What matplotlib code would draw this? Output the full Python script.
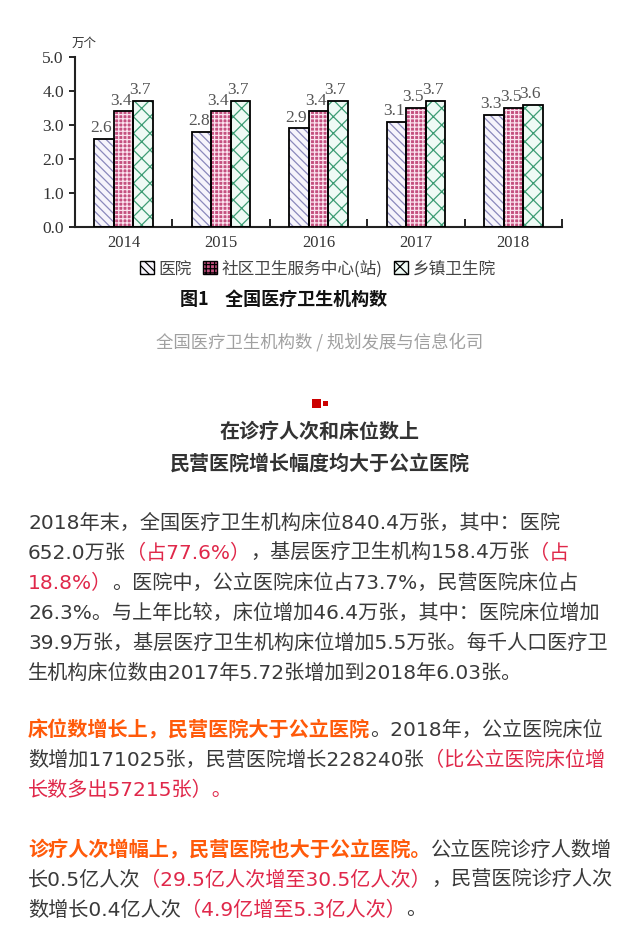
import matplotlib
matplotlib.use("Agg")
import matplotlib.pyplot as plt
from matplotlib.patches import Patch

# ---------------- data ----------------
years = ["2014", "2015", "2016", "2017", "2018"]
hospital = [2.6, 2.8, 2.9, 3.1, 3.3]
community = [3.4, 3.4, 3.4, 3.5, 3.5]
township = [3.7, 3.7, 3.7, 3.7, 3.6]
series_names = ["医院", "社区卫生服务中心(站)", "乡镇卫生院"]
y_ticks = [0.0, 1.0, 2.0, 3.0, 4.0, 5.0]
unit_label = "万个"
fig_title = "图1    全国医疗卫生机构数"
caption = "全国医疗卫生机构数 / 规划发展与信息化司"
heading = ["在诊疗人次和床位数上", "民营医院增长幅度均大于公立医院"]

N, R, O = "n", "r", "o"
para1 = [
    [("2018年末，全国医疗卫生机构床位840.4万张，其中：医院", N)],
    [("652.0万张", N), ("（占77.6%）", R), ("，基层医疗卫生机构158.4万张", N), ("（占", R)],
    [("18.8%）", R), ("。医院中，公立医院床位占73.7%，民营医院床位占", N)],
    [("26.3%。与上年比较，床位增加46.4万张，其中：医院床位增加", N)],
    [("39.9万张，基层医疗卫生机构床位增加5.5万张。每千人口医疗卫", N)],
    [("生机构床位数由2017年5.72张增加到2018年6.03张。", N)],
]
para2 = [
    [("床位数增长上，民营医院大于公立医院", O), ("。2018年，公立医院床位", N)],
    [("数增加171025张，民营医院增长228240张", N), ("（比公立医院床位增", R)],
    [("长数多出57215张）。", R)],
]
para3 = [
    [("诊疗人次增幅上，民营医院也大于公立医院。", O), ("公立医院诊疗人数增", N)],
    [("长0.5亿人次", N), ("（29.5亿人次增至30.5亿人次）", R), ("，民营医院诊疗人次", N)],
    [("数增长0.4亿人次", N), ("（4.9亿增至5.3亿人次）", R), ("。", N)],
]

# ---------------- setup ----------------
W, H = 640, 935
CJK = ["Noto Sans CJK SC", "DejaVu Sans"]
BODY = ["DejaVu Sans", "Noto Sans CJK SC"]
SERIF = ["Liberation Serif", "DejaVu Serif"]
plt.rcParams["font.family"] = CJK
plt.rcParams["hatch.linewidth"] = 0.9
fig = plt.figure(figsize=(W / 100, H / 100), dpi=100)
fig.patch.set_facecolor("white")


def fx(x):
    return x / W


def fy(y):
    return 1 - y / H


# ---------------- chart ----------------
ax = fig.add_axes([fx(75), fy(227), (562 - 75) / W, (227 - 57) / H])
ax.set_xlim(0, len(years))
ax.set_ylim(0, 5)
bw = 0.2
centers = [i + 0.5 for i in range(len(years))]
styles = [
    dict(face="#f6f4fb", hcol="#8a88bb", hatch="\\\\\\\\"),
    dict(face="#c4507f", hcol="#fbe2ee", hatch="++++"),
    dict(face="#effaf5", hcol="#3d9c74", hatch="xx"),
]
data = [hospital, community, township]
for k, (vals, st) in enumerate(zip(data, styles)):
    xs = [c + (k - 1) * bw for c in centers]
    ax.bar(xs, vals, width=bw, color=st["face"], edgecolor=st["hcol"],
           hatch=st["hatch"], linewidth=0, zorder=2)
    ax.bar(xs, vals, width=bw, fill=False, edgecolor="black",
           linewidth=1.3, zorder=3)
    for x, v in zip(xs, vals):
        ax.annotate(f"{v:.1f}", (x, v), xytext=(-2, 2), textcoords="offset points",
                    ha="center", va="bottom", fontsize=12.5, color="#555555",
                    family=SERIF)

for s in ["top", "right"]:
    ax.spines[s].set_visible(False)
for s in ["left", "bottom"]:
    ax.spines[s].set_linewidth(1.5)
    ax.spines[s].set_color("#222222")
ax.set_yticks(y_ticks)
ax.set_yticklabels([f"{v:.1f}" for v in y_ticks], family=SERIF, fontsize=12.5,
                   color="#333333")
ax.tick_params(axis="y", direction="out", length=4, width=1.2, pad=4)
ax.set_xticks([1, 2, 3, 4, 5])
ax.set_xticklabels([])
ax.tick_params(axis="x", which="major", direction="in", length=6, width=1.2)
ax.set_xticks(centers, minor=True)
ax.set_xticklabels(years, minor=True, family=SERIF, fontsize=12, color="#333333")
ax.tick_params(axis="x", which="minor", length=0, pad=6)
ax.patch.set_alpha(0)

fig.text(fx(72), fy(43), unit_label, fontsize=9, color="#333333",
         ha="left", va="center")

handles = []
for st in styles:
    handles.append(Patch(facecolor=st["face"], edgecolor="black", hatch=st["hatch"],
                         linewidth=1.0))
leg = fig.legend(handles, series_names, loc="center", bbox_to_anchor=(fx(318), fy(269)),
                 ncol=3, frameon=False, handlelength=0.8, handleheight=0.8,
                 handletextpad=0.3, columnspacing=0.7, fontsize=12,
                 labelcolor="#444444")

fig.text(fx(284), fy(299), fig_title, fontsize=13, fontweight="bold", color="#111111",
         ha="center", va="center")
fig.text(fx(320), fy(342), caption, fontsize=12.5, color="#a0a0a0",
         ha="center", va="center")

# ---------------- red marker ----------------
fig.patches.append(plt.Rectangle((fx(312), fy(408)), 9 / W, 9 / H, transform=fig.transFigure,
                                 facecolor="#cc0000", edgecolor="none"))
fig.patches.append(plt.Rectangle((fx(323), fy(406)), 5 / W, 5 / H, transform=fig.transFigure,
                                 facecolor="#cc0000", edgecolor="none"))

# ---------------- heading ----------------
fig.text(fx(320), fy(432), heading[0], fontsize=14.4, fontweight="bold", color="#333333",
         ha="center", va="center")
fig.text(fx(320), fy(463), heading[1], fontsize=14.4, fontweight="bold", color="#333333",
         ha="center", va="center")

# ---------------- body text ----------------
renderer = fig.canvas.get_renderer()
colors = {N: "#3a3a3a", R: "#e0284a", O: "#ff5a0a"}
FS = 14.5


def draw_lines(lines, y0, step=30, x0=28):
    for i, runs in enumerate(lines):
        x = x0
        y = y0 + i * step
        for txt, kind in runs:
            t = fig.text(fx(x), fy(y), txt, fontsize=FS, color=colors[kind],
                         family=BODY,
                         fontweight="bold" if kind == O else "normal",
                         ha="left", va="center")
            bb = t.get_window_extent(renderer)
            x += bb.width


draw_lines(para1, 523)
draw_lines(para2, 730)
draw_lines(para3, 850)

fig.savefig("out.png", dpi=100, facecolor="white")
